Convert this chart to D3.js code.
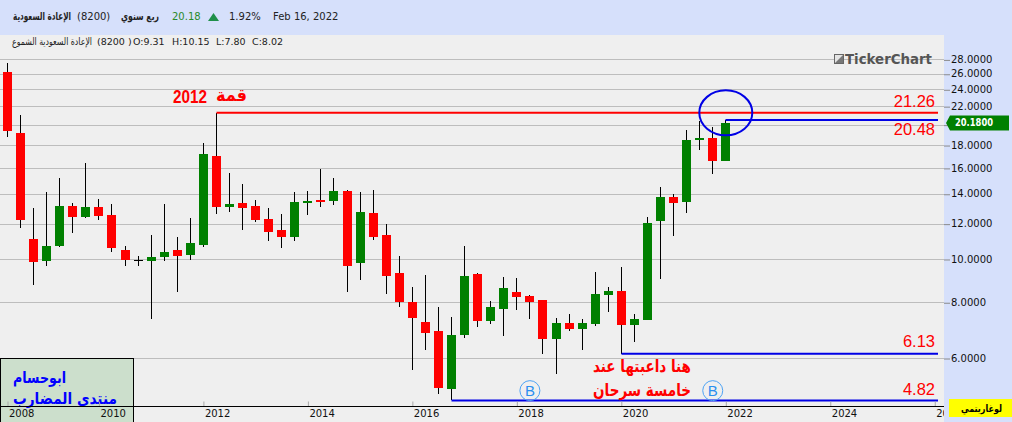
<!DOCTYPE html>
<html>
<head>
<meta charset="utf-8">
<script src="https://cdn.jsdelivr.net/npm/d3@7"></script>
<style>
  html, body { margin: 0; padding: 0; background: #efefef; overflow: hidden; }
  text { font-family: "DejaVu Sans", sans-serif; }
</style>
</head>
<body>
<svg id="chart" width="1012" height="422"></svg>
<script>
// quarterly candles, first one is 2008
const opens = [26.23,19.15,11.08,9.91,10.71,13.14,12.43,13.07,12.54,10.47,9.93,9.91,10.10,10.47,10.22,10.76,17.01,13.07,13.34,13.14,12.29,
  11.61,11.22,13.34,13.55,13.48,14.20,9.79,12.67,11.31,9.31,8.01,7.22,6.90,5.11,6.76,9.25,7.26,7.73,8.43,8.26,8.09,6.62,7.19,6.97,
  7.15,8.30,8.48,7.11,7.30,12.16,13.76,13.41,18.47,18.66,16.57]
const highs = [27.51,21.01,13.01,14.12,15.18,13.34,16.40,13.62,13.28,10.69,10.15,11.31,13.28,11.20,12.35,18.18,21.26,15.58,14.72,13.55,13.01,
  12.61,14.12,14.20,15.90,15.18,14.27,14.12,14.27,11.98,10.15,8.65,9.21,7.81,7.41,10.69,9.30,8.05,9.11,9.06,8.30,8.09,7.37,7.53,
  7.34,9.35,8.65,9.59,7.53,12.42,14.49,13.98,19.45,20.37,19.75,20.48]
const lows = [18.79,11.75,8.76,9.66,10.65,11.45,12.37,12.24,10.38,9.66,9.66,7.35,9.91,8.45,9.96,10.65,12.61,12.76,11.61,12.12,10.99,10.60,
  10.99,12.56,13.07,13.21,8.43,8.97,11.03,8.35,7.80,5.64,6.25,4.98,4.82,6.65,7.04,7.15,6.72,7.69,7.34,6.13,5.52,6.90,6.25,7.08,
  7.61,6.13,6.52,7.30,9.02,11.26,12.67,17.54,15.50,16.57]
const closes = [19.38,12.22,9.86,10.69,13.14,12.43,13.07,12.50,10.60,9.96,9.93,10.10,10.36,10.17,10.86,17.18,13.09,13.28,13.01,12.24,11.51,
  11.22,13.41,13.48,13.41,14.20,9.64,12.74,11.20,9.16,8.02,7.37,6.83,5.14,6.76,9.16,7.26,7.81,8.61,8.22,8.01,6.62,7.19,6.97,7.19,
  8.35,8.48,7.11,7.34,12.04,13.76,13.34,18.47,18.66,16.57,20.18]

const priceTicks = [6,8,10,12,14,16,18,20,22,24,26,28]
const yearLabels = ['2008','2010','2012','2014','2016','2018','2020','2022','2024','2026']
const yearCandles = [0,7,15,23,31,39,47,55,63,71]

// hand drawn levels
const levelStart = [16,55,47,34]
const levelPrice = [21.26,20.48,6.13,4.82]
const levelColor = ['#ff0000','#0000e6','#0000e6','#0000e6']
const levelLabelY = [-5.5,15,-6.5,-5.5]

const bubbleCandles = [40,54]
const bubblePrice = 5.07
const lastPrice = 20.18

const width = 1012, height = 422
const axisX = 944, axisY = 406, lineEnd = 938

const x = d3.scaleLinear().domain([0,55]).range([7.5,725.8])
const y = d3.scaleLog().domain([6,28]).range([358,59.4])

const svg = d3.select('#chart')
const px = i => Math.floor(x(i)) + 0.5

// squeeze a text to the width it has in the picture
const fit = (sel, w) => sel.attr('textLength', w).attr('lengthAdjust', 'spacingAndGlyphs')

svg.append('rect').attr('width', width).attr('height', height).attr('fill', '#efefef')

//-------------------------------------------------------------
// grid
svg.append('g').selectAll('line')
  .data(priceTicks)
  .enter().append('line')
    .attr('x1', 0).attr('x2', axisX)
    .attr('y1', d => Math.round(y(d)) + 0.5).attr('y2', d => Math.round(y(d)) + 0.5)
    .attr('stroke', '#bdbdbd')

//-------------------------------------------------------------
// candles
const candles = svg.append('g').attr('shape-rendering', 'crispEdges')
  .selectAll('g')
  .data(opens.map((o,i) => i))
  .enter().append('g')

candles.append('line')
  .attr('x1', px).attr('x2', px)
  .attr('y1', i => y(highs[i])).attr('y2', i => y(lows[i]))
  .attr('stroke', '#000')

candles.append('rect')
  .attr('x', i => px(i) - 4.5)
  .attr('width', 9)
  .attr('y', i => y(Math.max(opens[i], closes[i])))
  .attr('height', i => Math.max(1, Math.abs(y(opens[i]) - y(closes[i]))))
  .attr('fill', i => closes[i] > opens[i] ? '#008000' : closes[i] < opens[i] ? '#ff0000' : '#000')

//-------------------------------------------------------------
// levels
svg.append('g').selectAll('line')
  .data(levelPrice)
  .enter().append('line')
    .attr('x1', (d,i) => px(levelStart[i])).attr('x2', lineEnd)
    .attr('y1', d => y(d)).attr('y2', d => y(d))
    .attr('stroke', (d,i) => levelColor[i])
    .attr('stroke-width', 2)

svg.append('g').selectAll('text')
  .data(levelPrice)
  .enter().append('text')
    .attr('x', 935)
    .attr('y', (d,i) => y(d) + levelLabelY[i])
    .attr('text-anchor', 'end')
    .attr('fill', '#ff0000')
    .style('font', '16.5px "Liberation Sans"')
    .text(d => d3.format('.2f')(d))

svg.append('ellipse')
  .attr('cx', x(55)).attr('cy', y(21.26))
  .attr('rx', 26.5).attr('ry', 22.5)
  .attr('fill', 'none')
  .attr('stroke', '#0000e6')
  .attr('stroke-width', 2)

//-------------------------------------------------------------
// notes
fit(svg.append('text').attr('x', 173).attr('y', 102.5)
  .attr('fill', '#ff0000')
  .style('font', 'bold 19px "Liberation Sans"')
  .text('2012'), 34)

fit(svg.append('text').attr('x', 247).attr('y', 101)
  .attr('fill', '#ff0000').attr('text-anchor', 'end')
  .style('font', 'bold 17px "DejaVu Sans"')
  .text('قمة'), 31)

const noteLines = ['هنا داعبتها عند', 'خامسة سرحان']
fit(svg.append('g').selectAll('text')
  .data(noteLines)
  .enter().append('text')
    .attr('x', 691).attr('y', (d,i) => 372 + i * 23.5)
    .attr('text-anchor', 'end')
    .attr('fill', '#ff0000')
    .style('font', 'bold 17px "DejaVu Sans"')
    .text(d => d), 98)

const bubbles = svg.append('g').selectAll('g')
  .data(bubbleCandles)
  .enter().append('g')
    .attr('transform', d => `translate(${x(d)},${y(bubblePrice)})`)
bubbles.append('circle').attr('r', 10).attr('fill', 'none').attr('stroke', '#4da3f5').attr('stroke-width', 1)
bubbles.append('text').attr('text-anchor', 'middle').attr('y', 5.5)
  .attr('fill', '#2b8ff0')
  .style('font', '15px "Liberation Sans"')
  .text('B')

//-------------------------------------------------------------
// signature box
svg.append('rect')
  .attr('x', 0.5).attr('y', 358.5).attr('width', 133).attr('height', 66)
  .attr('fill', '#ccdfcc').attr('stroke', '#000')

const boxLines = ['ابوحسام', 'منتدى المضارب']
const boxWidths = [53,104]
svg.append('g').selectAll('text')
  .data(boxLines)
  .enter().append('text')
    .attr('x', (d,i) => 13 + boxWidths[i]).attr('y', (d,i) => 383 + i * 21)
    .attr('text-anchor', 'end')
    .attr('fill', '#0000ff')
    .attr('textLength', (d,i) => boxWidths[i])
    .attr('lengthAdjust', 'spacingAndGlyphs')
    .style('font', 'bold 16px "DejaVu Sans"')
    .text(d => d)

//-------------------------------------------------------------
// time axis
const xAxis = d3.axisBottom(x)
  .tickValues(yearCandles)
  .tickSize(-5)
  .tickFormat((d,i) => yearLabels[i])

const gx = svg.append('g')
  .attr('transform', `translate(0,${axisY + 0.5})`)
  .call(xAxis)
gx.select('.domain').remove()
gx.selectAll('.tick line').attr('stroke', '#a8a8a8')
gx.selectAll('.tick text')
  .attr('y', 3).attr('dy', '0.71em').attr('x', 1)
  .attr('text-anchor', 'start')
  .attr('fill', '#111')
  .style('font', '10px "DejaVu Sans"')
svg.append('line')
  .attr('x1', 0).attr('x2', axisX).attr('y1', axisY + 0.5).attr('y2', axisY + 0.5)
  .attr('stroke', '#000')

//-------------------------------------------------------------
// right panel and top bar
svg.append('rect').attr('x', axisX).attr('y', 0).attr('width', width - axisX).attr('height', height).attr('fill', '#d6e0fb')
svg.append('rect').attr('width', width).attr('height', 35).attr('fill', '#d6e0fb')

// the 20 label sits under the price tag, so it gets no text
const yAxis = d3.axisRight(y)
  .tickValues(priceTicks)
  .tickSize(6)
  .tickPadding(1)
  .tickFormat(d => d === 20 ? '' : d3.format('.4f')(d))

const gy = svg.append('g')
  .attr('transform', `translate(${axisX},0)`)
  .call(yAxis)
gy.select('.domain').remove()
gy.selectAll('.tick line').attr('stroke', '#8a8a8a')
  .attr('y1', 0.5).attr('y2', 0.5)
gy.selectAll('.tick text')
  .attr('fill', '#111')
  .style('font', '10px "DejaVu Sans"')

// last price tag
const tagY = y(lastPrice)
svg.append('path')
  .attr('d', d3.line()([[946,tagY],[950,tagY-7.5],[1009,tagY-7.5],[1009,tagY+7.5],[950,tagY+7.5]]) + 'Z')
  .attr('fill', '#008000')
svg.append('text').attr('x', 955).attr('y', tagY + 3.5)
  .attr('fill', '#fff')
  .style('font', 'bold 10px "DejaVu Sans"')
  .attr('textLength', 38)
  .attr('lengthAdjust', 'spacingAndGlyphs')
  .text(d3.format('.4f')(lastPrice))

// log button
svg.append('rect').attr('x', 949).attr('y', 399).attr('width', 63).attr('height', 18).attr('fill', '#ffff00')
fit(svg.append('text').attr('x', 1002).attr('y', 412)
  .attr('text-anchor', 'end')
  .attr('fill', '#000')
  .style('font', 'bold 10px "DejaVu Sans"')
  .text('لوغاريتمي'), 41)

// logo
svg.append('rect').attr('x', 834.5).attr('y', 54.5).attr('width', 9).attr('height', 9)
  .attr('fill', '#e4e4e4').attr('stroke', '#666')
svg.append('path').attr('d', 'M835,63 L843,55 L843,63 Z').attr('fill', '#777')
fit(svg.append('text').attr('x', 845).attr('y', 64)
  .attr('fill', '#555')
  .style('font', 'bold 14px "DejaVu Sans"')
  .text('TickerChart'), 87)

//-------------------------------------------------------------
// header text
const headerLtr = [['(8200)',77,'#222'],['20.18',172,'#2a8a2a'],['1.92%',229,'#222'],['Feb 16, 2022',273,'#222']]
svg.append('g').selectAll('text')
  .data(headerLtr)
  .enter().append('text')
    .attr('x', d => d[1]).attr('y', 20)
    .attr('fill', d => d[2])
    .style('font', '10px "DejaVu Sans"')
    .text(d => d[0])

const headerRtl = [['الإعادة السعودية',71,58],['ربع سنوي',159,38]]
svg.append('g').selectAll('text')
  .data(headerRtl)
  .enter().append('text')
    .attr('x', d => d[1]).attr('y', 20)
    .attr('text-anchor', 'end')
    .attr('fill', '#222')
    .attr('textLength', d => d[2])
    .attr('lengthAdjust', 'spacingAndGlyphs')
    .style('font', 'bold 11px "DejaVu Sans"')
    .text(d => d[0])

svg.append('path')
  .attr('d', 'M208,21 L213.5,13 L219,21 Z')
  .attr('fill', '#1f8f4a')

const ohlcLabels = [['(8200 )',97],['O:9.31',133],['H:10.15',172],['L:7.80',216],['C:8.02',252]]
svg.append('g').selectAll('text')
  .data(ohlcLabels)
  .enter().append('text')
    .attr('x', d => d[1]).attr('y', 45)
    .attr('fill', '#222')
    .style('font', '9.5px "DejaVu Sans"')
    .text(d => d[0])

fit(svg.append('text').attr('x', 92).attr('y', 45)
  .attr('text-anchor', 'end')
  .attr('fill', '#222')
  .style('font', '10px "DejaVu Sans"')
  .text('الإعادة السعودية الشموع'), 80)
</script>
</body>
</html>
